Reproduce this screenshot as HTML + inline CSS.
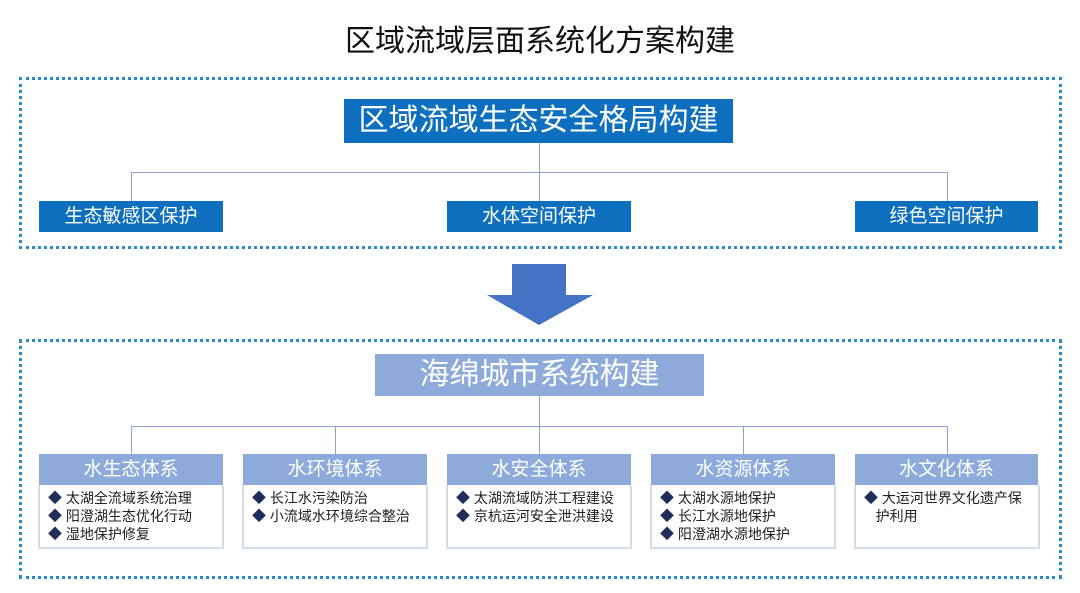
<!DOCTYPE html>
<html><head><meta charset="utf-8"><style>
body{margin:0;width:1080px;height:593px;background:#fff;position:relative;overflow:hidden;font-family:"Liberation Sans","Noto Sans CJK SC",sans-serif}
.a{position:absolute;box-sizing:border-box}
.dot{border:3px dotted #2e8bc9}
.db{background:#0e6fbf;color:#fff;text-align:center}
.lb{background:#8eaadb;color:#fff;text-align:center}
.ln{background:#8ea3cf}
.body{border:2px solid #d5dbe8;border-top:none;background:#fff;font-size:14px;line-height:18px;color:#222;padding:4px 0 0 8px}
.body span{color:#1f2d5a}
</style></head><body>
<div class="a" style="left:0;top:22px;width:1080px;text-align:center;font-size:30px;line-height:40px;color:#111">区域流域层面系统化方案构建</div>
<div class="a dot" style="left:19px;top:77px;width:1043px;height:172px"></div>
<div class="a db" style="left:344px;top:99px;width:389px;height:44px;font-size:30px;line-height:44px">区域流域生态安全格局构建</div>
<div class="a ln" style="left:539px;top:143px;width:1px;height:58px"></div>
<div class="a ln" style="left:131px;top:172px;width:817px;height:1px"></div>
<div class="a ln" style="left:131px;top:172px;width:1px;height:29px"></div>
<div class="a ln" style="left:947px;top:172px;width:1px;height:29px"></div>
<div class="a db" style="left:39px;top:201px;width:184px;height:31px;font-size:19px;line-height:31px">生态敏感区保护</div>
<div class="a db" style="left:447px;top:201px;width:184px;height:31px;font-size:19px;line-height:31px">水体空间保护</div>
<div class="a db" style="left:855px;top:201px;width:183px;height:31px;font-size:19px;line-height:31px">绿色空间保护</div>
<svg class="a" style="left:485px;top:263px" width="110" height="64"><polygon points="27,1 81,1 81,32 108,32 54,62 2,32 27,32" fill="#4472c4"/></svg>
<div class="a dot" style="left:19px;top:339px;width:1043px;height:240px"></div>
<div class="a lb" style="left:375px;top:354px;width:329px;height:42px;font-size:30px;line-height:42px">海绵城市系统构建</div>
<div class="a ln" style="left:539px;top:396px;width:1px;height:58px"></div>
<div class="a ln" style="left:131px;top:426px;width:817px;height:1px"></div>
<div class="a ln" style="left:131px;top:426px;width:1px;height:28px"></div>
<div class="a ln" style="left:335px;top:426px;width:1px;height:28px"></div>
<div class="a ln" style="left:743px;top:426px;width:1px;height:28px"></div>
<div class="a ln" style="left:947px;top:426px;width:1px;height:28px"></div>

<div class="a lb" style="left:39px;top:454px;width:184px;height:31px;font-size:19px;line-height:31px">水生态体系</div>
<div class="a body" style="left:38px;top:485px;width:186px;height:64px"><span>◆</span> 太湖全流域系统治理<br><span>◆</span> 阳澄湖生态优化行动<br><span>◆</span> 湿地保护修复</div>
<div class="a lb" style="left:243px;top:454px;width:184px;height:31px;font-size:19px;line-height:31px">水环境体系</div>
<div class="a body" style="left:242px;top:485px;width:186px;height:64px"><span>◆</span> 长江水污染防治<br><span>◆</span> 小流域水环境综合整治</div>
<div class="a lb" style="left:447px;top:454px;width:184px;height:31px;font-size:19px;line-height:31px">水安全体系</div>
<div class="a body" style="left:446px;top:485px;width:186px;height:64px"><span>◆</span> 太湖流域防洪工程建设<br><span>◆</span> 京杭运河安全泄洪建设</div>
<div class="a lb" style="left:651px;top:454px;width:184px;height:31px;font-size:19px;line-height:31px">水资源体系</div>
<div class="a body" style="left:650px;top:485px;width:186px;height:64px"><span>◆</span> 太湖水源地保护<br><span>◆</span> 长江水源地保护<br><span>◆</span> 阳澄湖水源地保护</div>
<div class="a lb" style="left:855px;top:454px;width:183px;height:31px;font-size:19px;line-height:31px">水文化体系</div>
<div class="a body" style="left:854px;top:485px;width:186px;height:64px;padding-right:6px"><span>◆</span> 大运河世界文化遗产保<br>&nbsp;&nbsp;&nbsp;护利用</div>
</body></html>
